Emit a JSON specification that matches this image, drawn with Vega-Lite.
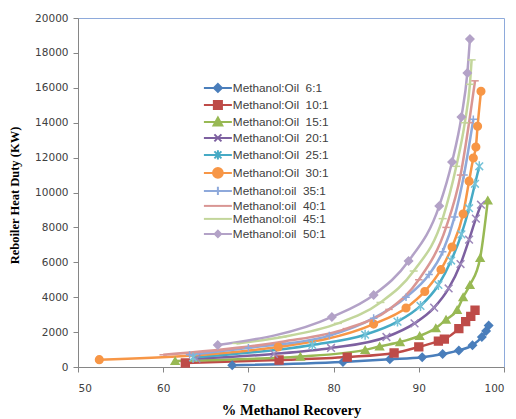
{
  "$schema": "https://vega.github.io/schema/vega-lite/v6.json",
  "width": 426,
  "height": 349,
  "autosize": {"type": "none"},
  "padding": {"left": 78, "top": 18, "right": 12, "bottom": 52},
  "background": "white",
  "config": {
    "view": {"stroke": "#8EAADB", "strokeWidth": 1},
    "axis": {"grid": false, "domainColor": "#868686", "tickColor": "#868686", "tickSize": 5, "labelFont": "DejaVu Sans", "labelFontSize": 10.5, "labelColor": "#404040", "titleFont": "Liberation Serif", "titleFontWeight": "bold", "titleColor": "#000000"}
  },
  "data": {"values": [
    {"s": "Methanol:Oil\u00a0\u00a06:1", "x": 68.1, "y": 100},
    {"s": "Methanol:Oil\u00a0\u00a06:1", "x": 81.1, "y": 290},
    {"s": "Methanol:Oil\u00a0\u00a06:1", "x": 86.6, "y": 440},
    {"s": "Methanol:Oil\u00a0\u00a06:1", "x": 90.4, "y": 560},
    {"s": "Methanol:Oil\u00a0\u00a06:1", "x": 92.8, "y": 740},
    {"s": "Methanol:Oil\u00a0\u00a06:1", "x": 94.7, "y": 950},
    {"s": "Methanol:Oil\u00a0\u00a06:1", "x": 96.3, "y": 1250},
    {"s": "Methanol:Oil\u00a0\u00a06:1", "x": 97.4, "y": 1720},
    {"s": "Methanol:Oil\u00a0\u00a06:1", "x": 97.9, "y": 2060},
    {"s": "Methanol:Oil\u00a0\u00a06:1", "x": 98.2, "y": 2380},
    {"s": "Methanol:Oil\u00a0\u00a010:1", "x": 62.6, "y": 230},
    {"s": "Methanol:Oil\u00a0\u00a010:1", "x": 73.6, "y": 400},
    {"s": "Methanol:Oil\u00a0\u00a010:1", "x": 81.6, "y": 570},
    {"s": "Methanol:Oil\u00a0\u00a010:1", "x": 87.1, "y": 800},
    {"s": "Methanol:Oil\u00a0\u00a010:1", "x": 90.0, "y": 1150},
    {"s": "Methanol:Oil\u00a0\u00a010:1", "x": 92.3, "y": 1480},
    {"s": "Methanol:Oil\u00a0\u00a010:1", "x": 93.0, "y": 1600},
    {"s": "Methanol:Oil\u00a0\u00a010:1", "x": 94.7, "y": 2200},
    {"s": "Methanol:Oil\u00a0\u00a010:1", "x": 95.5, "y": 2600},
    {"s": "Methanol:Oil\u00a0\u00a010:1", "x": 96.1, "y": 2900},
    {"s": "Methanol:Oil\u00a0\u00a010:1", "x": 96.6, "y": 3250},
    {"s": "Methanol:Oil\u00a0\u00a015:1", "x": 61.4, "y": 350},
    {"s": "Methanol:Oil\u00a0\u00a015:1", "x": 76.1, "y": 600},
    {"s": "Methanol:Oil\u00a0\u00a015:1", "x": 83.7, "y": 980},
    {"s": "Methanol:Oil\u00a0\u00a015:1", "x": 85.4, "y": 1180},
    {"s": "Methanol:Oil\u00a0\u00a015:1", "x": 87.8, "y": 1430},
    {"s": "Methanol:Oil\u00a0\u00a015:1", "x": 90.1, "y": 1780},
    {"s": "Methanol:Oil\u00a0\u00a015:1", "x": 92.0, "y": 2230},
    {"s": "Methanol:Oil\u00a0\u00a015:1", "x": 93.2, "y": 2720},
    {"s": "Methanol:Oil\u00a0\u00a015:1", "x": 94.5, "y": 3270},
    {"s": "Methanol:Oil\u00a0\u00a015:1", "x": 95.2, "y": 4000},
    {"s": "Methanol:Oil\u00a0\u00a015:1", "x": 96.0, "y": 4700},
    {"s": "Methanol:Oil\u00a0\u00a015:1", "x": 97.2, "y": 6250},
    {"s": "Methanol:Oil\u00a0\u00a015:1", "x": 98.1, "y": 9550},
    {"s": "Methanol:Oil\u00a0\u00a020:1", "x": 63.9, "y": 480},
    {"s": "Methanol:Oil\u00a0\u00a020:1", "x": 73.0, "y": 750},
    {"s": "Methanol:Oil\u00a0\u00a020:1", "x": 79.7, "y": 1090},
    {"s": "Methanol:Oil\u00a0\u00a020:1", "x": 86.2, "y": 1720},
    {"s": "Methanol:Oil\u00a0\u00a020:1", "x": 89.5, "y": 2500},
    {"s": "Methanol:Oil\u00a0\u00a020:1", "x": 91.8, "y": 3400},
    {"s": "Methanol:Oil\u00a0\u00a020:1", "x": 93.5, "y": 4500},
    {"s": "Methanol:Oil\u00a0\u00a020:1", "x": 94.9, "y": 5900},
    {"s": "Methanol:Oil\u00a0\u00a020:1", "x": 95.9, "y": 7300},
    {"s": "Methanol:Oil\u00a0\u00a020:1", "x": 96.7, "y": 8500},
    {"s": "Methanol:Oil\u00a0\u00a020:1", "x": 97.3, "y": 9300},
    {"s": "Methanol:Oil\u00a0\u00a025:1", "x": 63.5, "y": 550},
    {"s": "Methanol:Oil\u00a0\u00a025:1", "x": 77.5, "y": 1260},
    {"s": "Methanol:Oil\u00a0\u00a025:1", "x": 83.7, "y": 1850},
    {"s": "Methanol:Oil\u00a0\u00a025:1", "x": 87.5, "y": 2600},
    {"s": "Methanol:Oil\u00a0\u00a025:1", "x": 90.2, "y": 3500},
    {"s": "Methanol:Oil\u00a0\u00a025:1", "x": 92.3, "y": 4700},
    {"s": "Methanol:Oil\u00a0\u00a025:1", "x": 93.8, "y": 6100},
    {"s": "Methanol:Oil\u00a0\u00a025:1", "x": 95.0, "y": 7600},
    {"s": "Methanol:Oil\u00a0\u00a025:1", "x": 95.9, "y": 9100},
    {"s": "Methanol:Oil\u00a0\u00a025:1", "x": 96.6, "y": 10500},
    {"s": "Methanol:Oil\u00a0\u00a025:1", "x": 97.1, "y": 11500},
    {"s": "Methanol:Oil\u00a0\u00a030:1", "x": 52.5, "y": 420},
    {"s": "Methanol:Oil\u00a0\u00a030:1", "x": 73.5, "y": 1150},
    {"s": "Methanol:Oil\u00a0\u00a030:1", "x": 84.7, "y": 2460},
    {"s": "Methanol:Oil\u00a0\u00a030:1", "x": 88.5, "y": 3380},
    {"s": "Methanol:Oil\u00a0\u00a030:1", "x": 90.7, "y": 4330},
    {"s": "Methanol:Oil\u00a0\u00a030:1", "x": 92.6, "y": 5580},
    {"s": "Methanol:Oil\u00a0\u00a030:1", "x": 93.9, "y": 6880},
    {"s": "Methanol:Oil\u00a0\u00a030:1", "x": 95.2, "y": 8770},
    {"s": "Methanol:Oil\u00a0\u00a030:1", "x": 95.9, "y": 10650},
    {"s": "Methanol:Oil\u00a0\u00a030:1", "x": 96.4, "y": 11980},
    {"s": "Methanol:Oil\u00a0\u00a030:1", "x": 96.7, "y": 12610},
    {"s": "Methanol:Oil\u00a0\u00a030:1", "x": 96.9, "y": 13800},
    {"s": "Methanol:Oil\u00a0\u00a030:1", "x": 97.3, "y": 15800},
    {"s": "Methanol:oil\u00a0\u00a035:1", "x": 63.1, "y": 700},
    {"s": "Methanol:oil\u00a0\u00a035:1", "x": 70.0, "y": 1100},
    {"s": "Methanol:oil\u00a0\u00a035:1", "x": 79.5, "y": 1800},
    {"s": "Methanol:oil\u00a0\u00a035:1", "x": 84.7, "y": 2800},
    {"s": "Methanol:oil\u00a0\u00a035:1", "x": 88.5, "y": 4000},
    {"s": "Methanol:oil\u00a0\u00a035:1", "x": 91.2, "y": 5300},
    {"s": "Methanol:oil\u00a0\u00a035:1", "x": 92.8, "y": 6600},
    {"s": "Methanol:oil\u00a0\u00a035:1", "x": 94.2, "y": 8600},
    {"s": "Methanol:oil\u00a0\u00a035:1", "x": 95.3, "y": 11000},
    {"s": "Methanol:oil\u00a0\u00a035:1", "x": 96.4, "y": 14200},
    {"s": "Methanol:oil\u00a0\u00a040:1", "x": 60.0, "y": 700},
    {"s": "Methanol:oil\u00a0\u00a040:1", "x": 74.0, "y": 1450},
    {"s": "Methanol:oil\u00a0\u00a040:1", "x": 81.5, "y": 2200},
    {"s": "Methanol:oil\u00a0\u00a040:1", "x": 86.5, "y": 3300},
    {"s": "Methanol:oil\u00a0\u00a040:1", "x": 90.0, "y": 5000},
    {"s": "Methanol:oil\u00a0\u00a040:1", "x": 93.2, "y": 8000},
    {"s": "Methanol:oil\u00a0\u00a040:1", "x": 94.9, "y": 11000},
    {"s": "Methanol:oil\u00a0\u00a040:1", "x": 95.9, "y": 14000},
    {"s": "Methanol:oil\u00a0\u00a040:1", "x": 96.6, "y": 16400},
    {"s": "Methanol:oil\u00a0\u00a045:1", "x": 68.6, "y": 1350},
    {"s": "Methanol:oil\u00a0\u00a045:1", "x": 74.0, "y": 1720},
    {"s": "Methanol:oil\u00a0\u00a045:1", "x": 80.5, "y": 2500},
    {"s": "Methanol:oil\u00a0\u00a045:1", "x": 85.5, "y": 3700},
    {"s": "Methanol:oil\u00a0\u00a045:1", "x": 89.4, "y": 5500},
    {"s": "Methanol:oil\u00a0\u00a045:1", "x": 92.8, "y": 8500},
    {"s": "Methanol:oil\u00a0\u00a045:1", "x": 94.4, "y": 11500},
    {"s": "Methanol:oil\u00a0\u00a045:1", "x": 95.4, "y": 14000},
    {"s": "Methanol:oil\u00a0\u00a045:1", "x": 96.0, "y": 16200},
    {"s": "Methanol:oil\u00a0\u00a045:1", "x": 96.2, "y": 17600},
    {"s": "Methanol:oil\u00a0\u00a050:1", "x": 66.4, "y": 1260},
    {"s": "Methanol:oil\u00a0\u00a050:1", "x": 79.8, "y": 2870},
    {"s": "Methanol:oil\u00a0\u00a050:1", "x": 84.7, "y": 4130},
    {"s": "Methanol:oil\u00a0\u00a050:1", "x": 88.8, "y": 6070},
    {"s": "Methanol:oil\u00a0\u00a050:1", "x": 92.4, "y": 9230},
    {"s": "Methanol:oil\u00a0\u00a050:1", "x": 93.9, "y": 11750},
    {"s": "Methanol:oil\u00a0\u00a050:1", "x": 95.0, "y": 14330},
    {"s": "Methanol:oil\u00a0\u00a050:1", "x": 95.7, "y": 16850},
    {"s": "Methanol:oil\u00a0\u00a050:1", "x": 96.0, "y": 18790}
  ]},
  "encoding": {
    "x": {"field": "x", "type": "quantitative", "scale": {"domain": [50, 100], "nice": false, "zero": false},
      "axis": {"values": [50, 60, 70, 80, 90, 100], "labelPadding": 11, "title": "% Methanol Recovery", "titleFontSize": 14.5, "titleY": 43, "titleBaseline": "middle"}},
    "y": {"field": "y", "type": "quantitative", "scale": {"domain": [0, 20000], "nice": false},
      "axis": {"values": [0, 2000, 4000, 6000, 8000, 10000, 12000, 14000, 16000, 18000, 20000], "format": "d", "labelPadding": 5, "title": "Reboiler Heat Duty (KW)", "titleFontSize": 12.5, "titleAngle": -90, "titleX": -64, "titleY": 177, "titleAlign": "center", "titleBaseline": "middle"}},
    "color": {"field": "s", "type": "nominal",
      "scale": {"domain": ["Methanol:Oil\u00a0\u00a06:1", "Methanol:Oil\u00a0\u00a010:1", "Methanol:Oil\u00a0\u00a015:1", "Methanol:Oil\u00a0\u00a020:1", "Methanol:Oil\u00a0\u00a025:1", "Methanol:Oil\u00a0\u00a030:1", "Methanol:oil\u00a0\u00a035:1", "Methanol:oil\u00a0\u00a040:1", "Methanol:oil\u00a0\u00a045:1", "Methanol:oil\u00a0\u00a050:1"],
        "range": ["#4A7EBB", "#BE4B48", "#98B954", "#7D60A0", "#46AAC5", "#F79646", "#8EA9DB", "#D99694", "#C3D69B", "#B3A2C7"]},
      "legend": {"title": null, "orient": "none", "legendX": 134, "legendY": 64, "padding": 0, "symbolSize": 49, "labelOffset": 9, "rowPadding": 0, "labelFont": "Liberation Sans", "labelFontSize": 11.8, "labelColor": "#404040", "symbolStrokeWidth": 2,
        "encode": {"symbols": {"update": {
          "shape": {"signal": "['M-4,0H4M0,-1.15L1.15,0L0,1.15L-1.15,0Z','M-4,0H4M-1.15,-1.15H1.15V1.15H-1.15Z','M-4,0H4M0,-1.25L1.25,1H-1.25Z','M-4,0H4M-1,-1L1,1M-1,1L1,-1','M-4,0H4M-1,-1L1,1M-1,1L1,-1M0,-1.3V1.3','M-4,0H4M1.4,0A1.4,1.4,0,1,1,-1.4,0A1.4,1.4,0,1,1,1.4,0Z','M-4,0H4M0,-1.2V1.2','M-4,0H4','M-4,0H4','M-4,0H4M0,-0.9L0.9,0L0,0.9L-0.9,0Z'][indexof(domain('color'), datum.value)]"},
          "size": {"value": 49},
          "fill": {"scale": "color", "field": "value"},
          "stroke": {"scale": "color", "field": "value"},
          "strokeWidth": {"value": 2},
          "opacity": {"value": 1}
        }}}
      }
    }
  },
  "layer": [
    {
      "mark": {"type": "line", "interpolate": "monotone", "strokeWidth": 2.5}
    },
    {
      "mark": {"type": "point", "filled": true, "opacity": 1, "strokeWidth": 1.5},
      "encoding": {
        "stroke": {"field": "s", "type": "nominal", "legend": null,
          "scale": {"domain": ["Methanol:oil\u00a0\u00a050:1", "Methanol:oil\u00a0\u00a045:1", "Methanol:oil\u00a0\u00a040:1", "Methanol:oil\u00a0\u00a035:1", "Methanol:Oil\u00a0\u00a030:1", "Methanol:Oil\u00a0\u00a025:1", "Methanol:Oil\u00a0\u00a020:1", "Methanol:Oil\u00a0\u00a015:1", "Methanol:Oil\u00a0\u00a010:1", "Methanol:Oil\u00a0\u00a06:1"],
            "range": ["#B3A2C7", "#C3D69B", "#D99694", "#8EA9DB", "#F79646", "#74C2D8", "#9C87BA", "#98B954", "#BE4B48", "#4A7EBB"]}},
        "shape": {"field": "s", "type": "nominal", "legend": null,
          "scale": {"domain": ["Methanol:oil\u00a0\u00a050:1", "Methanol:Oil\u00a0\u00a06:1", "Methanol:Oil\u00a0\u00a010:1", "Methanol:Oil\u00a0\u00a015:1", "Methanol:Oil\u00a0\u00a020:1", "Methanol:Oil\u00a0\u00a025:1", "Methanol:Oil\u00a0\u00a030:1", "Methanol:oil\u00a0\u00a035:1", "Methanol:oil\u00a0\u00a040:1", "Methanol:oil\u00a0\u00a045:1"],
            "range": ["diamond", "diamond", "square", "triangle-up", "M-1,-1L1,1M-1,1L1,-1", "M-1,-1L1,1M-1,1L1,-1M0,-1.3V1.3", "circle", "M-1,0H1M0,-1V1", "M-1,0H1", "M-1,0H1"]}},
        "size": {"field": "s", "type": "nominal", "legend": null,
          "scale": {"domain": ["Methanol:oil\u00a0\u00a045:1", "Methanol:oil\u00a0\u00a050:1", "Methanol:Oil\u00a0\u00a06:1", "Methanol:Oil\u00a0\u00a010:1", "Methanol:Oil\u00a0\u00a015:1", "Methanol:Oil\u00a0\u00a020:1", "Methanol:Oil\u00a0\u00a025:1", "Methanol:Oil\u00a0\u00a030:1", "Methanol:oil\u00a0\u00a035:1", "Methanol:oil\u00a0\u00a040:1"],
            "range": [64, 56, 64, 81, 81, 64, 81, 110, 64, 64]}}
      }
    }
  ]
}
